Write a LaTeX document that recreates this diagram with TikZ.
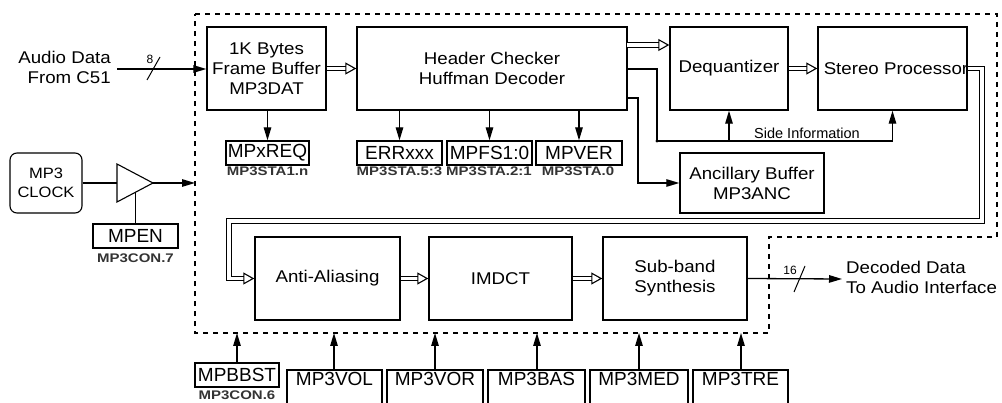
\documentclass[tikz,border=0pt]{standalone}
\usepackage{fontspec}
\setmainfont{Liberation Sans}
\newfontfamily\widefont[FakeStretch=1.1]{Liberation Sans}
\newfontfamily\smallwide[FakeStretch=1.2]{Liberation Sans}
\usetikzlibrary{arrows.meta,calc}
\newcommand\mtxt{\widefont\fontsize{17}{20}\selectfont}
\newcommand\rtxt{\fontsize{19}{22}\selectfont}
\newcommand\stxt{\smallwide\bfseries\fontsize{12.5}{14}\selectfont}
\begin{document}
\begin{tikzpicture}[x=1pt,y=-1pt,
  blk/.style={draw, line width=1.4pt, inner sep=0pt, align=center, font=\mtxt},
  reg/.style={draw, line width=1.3pt, inner sep=0pt, minimum height=24, font=\rtxt},
  lbl/.style={inner sep=0pt, font=\stxt, text=black!80},
  ln/.style={line width=1.3pt},
  arr/.style={line width=1.3pt, -{Triangle[length=13pt,width=7.5pt]}},
  dbl/.style={line width=1.1pt, double, double distance=3.6pt, line join=miter, -{Triangle[open,length=11pt,width=12pt]}},
  bus/.style={line width=1pt},
  fence/.style={line width=1.8pt, dash pattern=on 5pt off 5pt},
  openbox/.style={line width=1.3pt}]
\useasboundingbox (0,0) rectangle (1002,403);

% dashed enclosure
\draw[fence] (195,14) -- (997,14) -- (997,237) -- (769,237) -- (769,333) -- (195,333) -- cycle;

% main blocks
\node[blk, minimum width=119, minimum height=83] (fb) at (266.5,68.5) {1K Bytes\\Frame Buffer\\MP3DAT};
\node[blk, minimum width=270, minimum height=83] (hc) at (492,68.5) {Header Checker\\Huffman Decoder};
\node[blk, minimum width=118, minimum height=83] (dq) at (729,68.5) {Dequantizer};
\node[blk, minimum width=149, minimum height=83] (sp) at (892.5,68.5) {};
\node[inner sep=0pt, font=\mtxt] (sptxt) at (896,69) {Stereo Processor};
\node[blk, minimum width=144, minimum height=60] (anc) at (752,183) {Ancillary Buffer\\MP3ANC};
\node[blk, minimum width=145, minimum height=83] (aa) at (327.5,278.5) {Anti-Aliasing};
\node[blk, minimum width=143, minimum height=83] (im) at (500.5,278.5) {IMDCT};
\node[blk, minimum width=144, minimum height=83] (sb) at (675,278.5) {Sub-band\\Synthesis};

% clock
\node[draw, line width=1.1pt, rounded corners=7pt, minimum width=72, minimum height=60, align=center,
  font=\widefont\fontsize{15}{19}\selectfont, inner sep=0pt] (clk) at (46,183) {MP3\\CLOCK};
\draw[line width=1.1pt] (117,164) -- (153,183) -- (117,202) -- cycle;
\coordinate (bin) at (117,183);
\coordinate (bout) at (153,183);
\coordinate (bbot) at (135.5,192.3);
\coordinate (edgeclk) at (195,183);
\draw[ln] (clk.east) -- (bin);
\draw[arr] (bout) -- (edgeclk);
\node[reg, minimum width=85] (mpen) at (135.5,236) {MPEN};
\node[lbl] (mpenl) at (135.5,258) {MP3CON.7};
\draw[ln] (bbot) -- (mpen.north);

% audio data input
\node[inner sep=0pt, align=right, font=\mtxt, anchor=east] (ad) at (111,67) {Audio Data\\From C51};
\coordinate (adout) at (117,69);
\draw[arr] (adout) -- (fb.west |- adout);
\draw[bus] (147,80) -- (160,57);
\node[inner sep=0pt, font=\fontsize{12}{14}\selectfont] (eight) at (150,59) {8};

% registers under blocks
\node[reg, minimum width=83] (mpx) at (267.5,153) {MPxREQ};
\node[lbl] (mpxl) at (267.5,171) {MP3STA1.n};
\node[reg, minimum width=85] (err) at (399.5,153) {ERRxxx};
\node[lbl] (errl) at (399.5,171) {MP3STA.5:3};
\node[reg, minimum width=85] (mpfs) at (489.5,153) {MPFS1:0};
\node[lbl] (mpfsl) at (489,171) {MP3STA.2:1};
\node[reg, minimum width=86] (mpver) at (579,153) {MPVER};
\node[lbl] (mpverl) at (578,171) {MP3STA.0};
\draw[arr] (fb.south -| mpx) -- (mpx.north);
\draw[arr] (hc.south -| err) -- (err.north);
\draw[arr] (hc.south -| mpfs) -- (mpfs.north);
\draw[arr] (hc.south -| mpver) -- (mpver.north);

% double arrows (data path)
\draw[dbl] (fb.east) -- (hc.west);
\coordinate (hcb) at (627,45);
\draw[dbl] (hcb) -- (hcb -| dq.west);
\draw[dbl] (dq.east) -- (sp.west);
\coordinate (r1) at (982,68.5);
\coordinate (r2) at (982,221);
\coordinate (r3) at (229,221);
\draw[dbl] (sp.east) -- (r1) -- (r2) -- (r3) |- (aa.west);
\draw[dbl] (aa.east) -- (im.west);
\draw[dbl] (im.east) -- (sb.west);

% side information
\coordinate (si1) at (657,69);
\coordinate (sid) at (657,141);
\coordinate (si2) at (892.5,141);
\draw[ln] (hc.east |- si1) -- (si1) -- (sid) -- (si2);
\fill (sid) circle (1.6);
\draw[arr] (dq.south |- sid) -- (dq.south);
\draw[arr] (si2) -- (sp.south);
\node[inner sep=0pt, font=\fontsize{14.5}{16}\selectfont] (sitxt) at (807,133) {Side Information};

% ancillary
\coordinate (an1) at (627,98);
\coordinate (an2) at (638,98);
\draw[arr] (an1) -- (an2) |- (anc.west);

% output
\coordinate (dout) at (842,279);
\draw[arr] (sb.east) -- (dout);
\draw[bus] (794,292) -- (805,266);
\node[inner sep=0pt, font=\fontsize{12}{14}\selectfont] (sixteen) at (790,270) {16};
\node[inner sep=0pt, align=left, font=\mtxt, anchor=west] (dd) at (846,277) {Decoded Data\\To Audio Interface};

% control registers at the bottom
\node[reg, minimum width=84] (bbst) at (237,375) {MPBBST};
\node[lbl] (bbstl) at (237,395) {MP3CON.6};
\coordinate (bbste) at (237,333);
\draw[arr] (bbst.north) -- (bbste);

\draw[openbox] (287,406) -- (287,370) -- (382,370) -- (382,406);
\node[inner sep=0pt, font=\rtxt] (vol) at (334.5,379) {MP3VOL};
\coordinate (volt) at (334,370);
\coordinate (vole) at (334,333);
\draw[arr] (volt) -- (vole);

\draw[openbox] (387,406) -- (387,370) -- (483,370) -- (483,406);
\node[inner sep=0pt, font=\rtxt] (vor) at (435,379) {MP3VOR};
\coordinate (vort) at (435,370);
\coordinate (vore) at (435,333);
\draw[arr] (vort) -- (vore);

\draw[openbox] (488,406) -- (488,370) -- (585,370) -- (585,406);
\node[inner sep=0pt, font=\rtxt] (bas) at (536.5,379) {MP3BAS};
\coordinate (bast) at (537,370);
\coordinate (base) at (537,333);
\draw[arr] (bast) -- (base);

\draw[openbox] (590,406) -- (590,370) -- (688,370) -- (688,406);
\node[inner sep=0pt, font=\rtxt] (med) at (639,379) {MP3MED};
\coordinate (medt) at (639,370);
\coordinate (mede) at (639,333);
\draw[arr] (medt) -- (mede);

\draw[openbox] (693,406) -- (693,370) -- (788,370) -- (788,406);
\node[inner sep=0pt, font=\rtxt] (tre) at (740.5,379) {MP3TRE};
\coordinate (tret) at (741,370);
\coordinate (tree) at (741,333);
\draw[arr] (tret) -- (tree);
\end{tikzpicture}
\end{document}
